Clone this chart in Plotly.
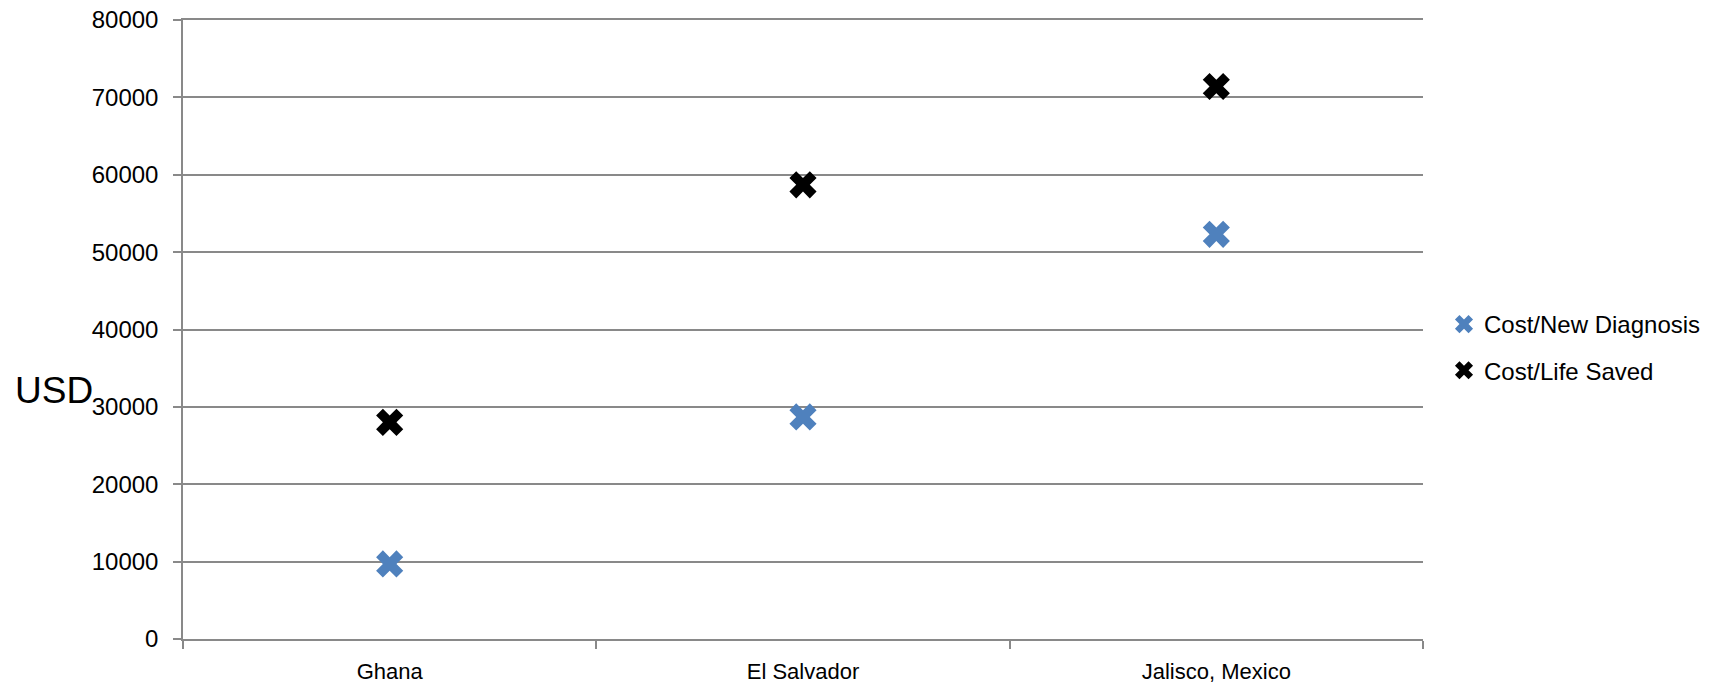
import plotly.graph_objects as go

categories = ["Ghana", "El Salvador", "Jalisco, Mexico"]
cost_new_diagnosis = [9700, 28700, 52300]
cost_life_saved = [28000, 58700, 71400]
y_ticks = [0, 10000, 20000, 30000, 40000, 50000, 60000, 70000, 80000]

W, H = 1716, 688
PL, PR, PT, PB = 183, 1423, 20, 639
L, R, T, B = PL, W - PR, PT, H - PB
pw = PR - PL
ph = PB - PT

FONT = "Liberation Sans, Arial, sans-serif"
GRID = "#898989"


def px_x(x):
    return (x - PL) / pw


def px_y(y):
    return (PB - y) / ph


fig = go.Figure()
fig.add_trace(go.Scatter(
    x=categories, y=cost_new_diagnosis, mode="markers", name="Cost/New Diagnosis",
    legendgroup="a",
    marker=dict(symbol="x", size=24, color="#4F81BD", line=dict(width=0)),
))
fig.add_trace(go.Scatter(
    x=categories, y=cost_life_saved, mode="markers", name="Cost/Life Saved",
    legendgroup="b",
    marker=dict(symbol="x", size=24, color="#000000", line=dict(width=0)),
))

fig.add_annotation(
    text="USD", xref="paper", yref="paper",
    x=px_x(13), y=px_y(390), xanchor="left", yanchor="middle",
    showarrow=False, font=dict(family=FONT, size=37, color="#000000"),
)

fig.update_layout(
    width=W, height=H,
    margin=dict(l=L, r=R, t=T, b=B, pad=0, autoexpand=False),
    paper_bgcolor="white", plot_bgcolor="white",
    font=dict(family=FONT, size=24, color="#000000"),
    showlegend=True,
    legend=dict(
        x=px_x(1444), xanchor="left",
        y=px_y(347.5), yanchor="middle",
        font=dict(family=FONT, size=24, color="#000000"),
        tracegroupgap=12, bgcolor="rgba(0,0,0,0)",
    ),
    xaxis=dict(
        type="category", range=[-0.5, 2.5], showgrid=False, automargin=False,
        showline=True, mirror=True, linecolor=GRID, linewidth=1.5,
        ticks="outside", tickson="boundaries", ticklen=8, tickcolor=GRID, tickwidth=1.5,
        tickfont=dict(family=FONT, size=22, color="#000000"),
        ticklabelstandoff=12, zeroline=False,
    ),
    yaxis=dict(
        range=[0, 80000], tickvals=y_ticks, ticktext=[str(v) for v in y_ticks],
        automargin=False,
        showgrid=True, gridcolor=GRID, gridwidth=1.5,
        showline=True, linecolor=GRID, linewidth=1.5,
        ticks="outside", ticklen=8, tickcolor=GRID, tickwidth=1.5,
        tickfont=dict(family=FONT, size=24, color="#000000"),
        ticklabelstandoff=10, zeroline=False,
    ),
)

fig.write_html(
    "out.html",
    config={"displayModeBar": False},
    post_script="document.body.style.margin='0';document.body.style.overflow='hidden';",
)
